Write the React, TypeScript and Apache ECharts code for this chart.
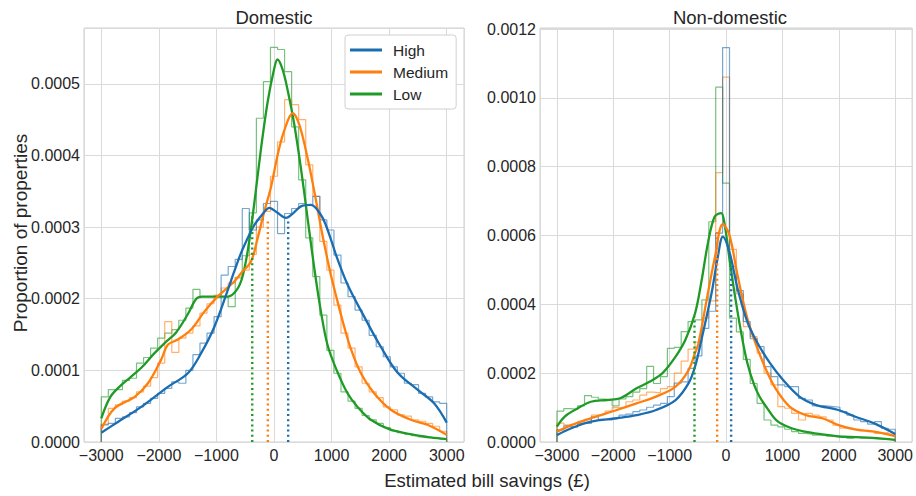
import React, { useEffect, useRef } from "react";
import * as echarts from "echarts";

// ---- data (densities in units of 1e-4) ----
const BIN_START = -3000;
const BIN_END = 3000;
const SCALE = 1e-4;
const groupNames = ["High", "Medium", "Low"];
const groupColors = ["#1b6db0", "#ff7f0e", "#1f9a26"];
const xTicks = [-3000, -2000, -1000, 0, 1000, 2000, 3000];

// Domestic histograms (49 bins from -3000 to 3000)
const domHighHist = [0.24, 0.26, 0.33, 0.35, 0.41, 0.49, 0.54, 0.61, 0.68, 0.75, 0.84, 0.82, 1.0, 1.22, 1.38, 1.52, 1.75,
  2.33, 2.45, 2.55, 3.26, 2.96, 3.1, 3.33, 3.36, 2.91, 3.19, 3.26, 3.33, 3.31, 3.43, 3.1, 2.96, 2.61,
  2.22, 2.03, 1.84, 1.7, 1.49, 1.33, 1.19, 1.05, 0.96, 0.82, 0.8, 0.68, 0.63, 0.56, 0.54];
const domMediumHist = [0.25, 0.47, 0.52, 0.57, 0.62, 0.7, 0.78, 0.9, 1.1, 1.68, 1.25, 1.45, 1.52, 1.62, 1.8, 1.93, 2.05,
  2.15, 2.22, 2.29, 2.4, 2.62, 3.0, 3.22, 3.71, 4.19, 4.78, 4.71, 4.5, 3.87, 3.43, 2.8, 2.4, 1.91,
  1.52, 1.31, 1.05, 0.82, 0.7, 0.62, 0.49, 0.45, 0.38, 0.36, 0.31, 0.29, 0.26, 0.22, 0.15];
const domLowHist = [0.63, 0.73, 0.73, 0.86, 0.89, 1.1, 1.18, 1.31, 1.45, 1.52, 1.57, 1.7, 1.87, 2.13, 2.03, 2.03, 2.03,
  2.03, 1.89, 2.3, 2.6, 3.2, 4.52, 5.03, 5.51, 5.48, 5.17, 4.4, 3.66, 2.85, 2.31, 1.77, 1.28, 0.96,
  0.7, 0.57, 0.47, 0.37, 0.31, 0.26, 0.2, 0.16, 0.13, 0.11, 0.09, 0.07, 0.06, 0.05, 0.04];

// Non-domestic histograms
const ndHighHist = [0.35, 0.47, 0.43, 0.54, 0.54, 0.73, 0.66, 0.64, 0.69, 0.78, 0.81, 0.88, 0.93, 1.01, 1.07, 1.12, 1.32, 1.71, 1.75, 2.14,
  2.5, 3.3, 3.8, 6.07, 11.46, 5.1, 4.4, 3.5, 3.0,
  2.77, 2.19, 1.9, 1.66, 1.61, 1.61, 1.27, 1.22, 1.05, 1.05, 1.03, 1.01, 0.88, 0.78, 0.64, 0.59, 0.52, 0.59, 0.4, 0.37];
const ndMediumHist = [0.55, 0.5, 0.45, 0.6, 0.66, 0.78, 0.8, 0.9, 1.0, 1.0, 1.17, 1.22, 1.36, 1.45, 1.43, 1.55, 1.61, 2.0, 2.35, 2.7,
  2.9, 3.6, 4.1, 7.83, 10.6, 5.6, 4.3, 3.35, 3.06,
  2.58, 2.0, 1.66, 1.03, 0.98, 0.83, 0.64, 0.83, 0.78, 0.73, 0.64, 0.49, 0.4, 0.4, 0.37, 0.33, 0.3, 0.25, 0.27, 0.23];
const ndLowHist = [0.9, 0.97, 0.95, 1.05, 1.35, 1.3, 1.25, 1.22, 1.05, 1.25, 1.32, 1.45, 1.55, 2.2, 1.7, 1.9, 2.72, 2.75, 3.21, 3.5,
  3.55, 4.13, 6.4, 10.31, 7.52, 3.6, 3.2, 2.4, 1.7,
  1.12, 0.64, 0.49, 0.44, 0.37, 0.3, 0.25, 0.23, 0.2, 0.2, 0.17, 0.16, 0.14, 0.11, 0.14, 0.11, 0.1, 0.08, 0.08, 0.06];

// KDE curves: x positions (£) and densities (1e-4)
const domHighKdeX = [-3000, -2711, -2306, -1843, -1496, -1266, -1035, -803, -700, -572, -450, -341, -200, -81, 60, 208, 340, 468, 642, 815, 900, 1000, 1100, 1277, 1566, 1855, 2145, 2492, 2780, 3000];
const domHighKdeY = [0.13, 0.28, 0.49, 0.77, 0.96, 1.24, 1.61, 2.12, 2.36, 2.64, 2.86, 3.03, 3.18, 3.27, 3.2, 3.13, 3.2, 3.29, 3.31, 3.17, 3.03, 2.8, 2.56, 2.2, 1.75, 1.33, 0.97, 0.73, 0.54, 0.27];
const domMediumKdeX = [-3000, -2770, -2420, -2190, -1960, -1840, -1670, -1440, -1210, -980, -690, -570, -400, -283, -168, -52, 64, 179, 324, 439, 584, 699, 844, 988, 1104, 1219, 1335, 1509, 1739, 2029, 2376, 2665, 3000];
const domMediumKdeY = [0.18, 0.47, 0.63, 0.82, 1.15, 1.36, 1.43, 1.57, 1.82, 2.03, 2.24, 2.36, 2.52, 2.85, 3.22, 3.56, 4.01, 4.35, 4.59, 4.43, 3.96, 3.5, 2.88, 2.33, 1.96, 1.61, 1.3, 0.96, 0.68, 0.45, 0.31, 0.24, 0.1];
const domLowKdeX = [-3000, -2850, -2700, -2500, -2300, -2100, -1900, -1700, -1500, -1350, -1250, -1000, -800, -650, -550, -450, -340, -225, -110, 0, 60, 150, 240, 353, 468, 584, 699, 815, 931, 1090, 1277, 1451, 1682, 2000, 2433, 2722, 3000];
const domLowKdeY = [0.33, 0.62, 0.76, 0.9, 1.04, 1.22, 1.38, 1.53, 1.78, 2.0, 2.03, 2.03, 2.03, 2.12, 2.3, 2.7, 3.35, 4.1, 4.75, 5.2, 5.34, 5.2, 4.9, 4.43, 3.82, 3.12, 2.43, 1.82, 1.35, 1.0, 0.68, 0.49, 0.31, 0.18, 0.1, 0.065, 0.04];

const ndHighKdeX = [-3000, -2745, -2398, -1936, -1588, -1242, -895, -664, -548, -433, -260, -144, -57, 59, 203, 376, 550, 780, 1012, 1301, 1590, 1994, 2283, 2630, 3000];
const ndHighKdeY = [0.2, 0.4, 0.59, 0.69, 0.78, 0.93, 1.22, 1.71, 2.2, 3.0, 4.3, 5.4, 5.97, 5.53, 4.47, 3.5, 2.9, 2.29, 1.8, 1.32, 1.08, 0.93, 0.74, 0.54, 0.23];
const ndMediumKdeX = [-3000, -2745, -2398, -1936, -1588, -1242, -895, -664, -548, -491, -317, -201, -57, 59, 203, 376, 550, 723, 896, 1127, 1417, 1706, 1994, 2283, 2630, 3000];
const ndMediumKdeY = [0.3, 0.49, 0.69, 0.93, 1.12, 1.32, 1.61, 2.09, 2.6, 2.85, 4.37, 5.34, 6.33, 6.02, 4.85, 3.6, 2.75, 2.05, 1.51, 1.03, 0.78, 0.69, 0.49, 0.37, 0.3, 0.17];
const ndLowKdeX = [-3000, -2861, -2629, -2398, -2109, -1878, -1588, -1358, -1127, -895, -721, -548, -433, -317, -201, -87, -28, 59, 146, 260, 376, 500, 600, 723, 900, 1128, 1400, 1706, 2000, 2300, 2600, 3000];
const ndLowKdeY = [0.45, 0.74, 0.98, 1.17, 1.22, 1.27, 1.56, 1.75, 2.0, 2.48, 2.97, 3.75, 4.7, 5.82, 6.55, 6.65, 6.35, 5.34, 4.37, 3.25, 2.3, 1.65, 1.3, 1.0, 0.62, 0.42, 0.3, 0.22, 0.16, 0.14, 0.12, 0.06];

// Medians (£) and the KDE height at each median (1e-4): High, Medium, Low
const domMedians = [246, -107, -378];
const domMedianHeights = [3.08, 3.12, 3.15];
const ndMedians = [90, -158, -560];
const ndMedianHeights = [5.1, 6.2, 3.65];

const FONT = "'Liberation Sans', Arial, Helvetica, sans-serif";
const TEXT = "#262626";

function histPoints(vals: number[]) {
  const w = (BIN_END - BIN_START) / vals.length;
  const pts: number[][] = [[BIN_START, 0]];
  vals.forEach((v, i) => {
    const a = BIN_START + i * w;
    pts.push([a, v * SCALE], [a + w, v * SCALE]);
  });
  pts.push([BIN_END, 0]);
  return pts;
}
function kdePoints(xs: number[], ys: number[]) {
  return xs.map((x, i) => [x, ys[i] * SCALE]);
}

export default function App() {
  const ref = useRef<HTMLDivElement>(null);
  useEffect(() => {
    document.body.style.margin = "0";
    const chart = echarts.init(ref.current!, undefined, { renderer: "svg" });
    const panels = [
      {
        hists: [domHighHist, domMediumHist, domLowHist],
        kdes: [[domHighKdeX, domHighKdeY], [domMediumKdeX, domMediumKdeY], [domLowKdeX, domLowKdeY]],
        medians: domMedians, heights: domMedianHeights,
      },
      {
        hists: [ndHighHist, ndMediumHist, ndLowHist],
        kdes: [[ndHighKdeX, ndHighKdeY], [ndMediumKdeX, ndMediumKdeY], [ndLowKdeX, ndLowKdeY]],
        medians: ndMedians, heights: ndMedianHeights,
      },
    ];
    const series: any[] = [];
    panels.forEach((p, pi) => {
      for (let g = 2; g >= 0; g--) {
        series.push({
          name: groupNames[g] + " hist " + pi, type: "line", xAxisIndex: pi, yAxisIndex: pi,
          data: histPoints(p.hists[g]), showSymbol: false, symbol: "none", z: 2,
          lineStyle: { color: groupColors[g], width: 1.2, opacity: 0.6 }, itemStyle: { color: groupColors[g] },
          silent: true,
        });
      }
      for (let g = 2; g >= 0; g--) {
        series.push({
          name: groupNames[g], type: "line", xAxisIndex: pi, yAxisIndex: pi,
          data: kdePoints(p.kdes[g][0], p.kdes[g][1]), showSymbol: false, symbol: "none",
          smooth: 0.35, z: 3,
          lineStyle: { color: groupColors[g], width: 2.3 }, itemStyle: { color: groupColors[g] },
        });
      }
      for (let g = 2; g >= 0; g--) {
        series.push({
          name: groupNames[g] + " median " + pi, type: "line", xAxisIndex: pi, yAxisIndex: pi,
          data: [[p.medians[g], 0], [p.medians[g], p.heights[g] * SCALE]], showSymbol: false, symbol: "none", z: 4,
          lineStyle: { color: groupColors[g], width: 2.4, type: [2, 3.2], cap: "butt" }, itemStyle: { color: groupColors[g] },
        });
      }
    });

    const xAxisCommon = (gi: number) => ({
      type: "value", gridIndex: gi, min: -3300, max: 3300, splitNumber: 6,
      axisLine: { show: false }, axisTick: { show: false },
      axisLabel: {
        fontSize: 16, color: TEXT, fontFamily: FONT, margin: 5,
        formatter: (v: number) => (xTicks.indexOf(Math.round(v)) < 0 || Math.abs(v - Math.round(v)) > 1e-6 ? "" : v < 0 ? "\u2212" + Math.abs(v) : String(v)),
      },
      splitLine: { show: true, lineStyle: { color: "#dadada", width: 1 } },
    });
    const yAxisCommon = (gi: number, max: number, interval: number) => ({
      type: "value", gridIndex: gi, min: 0, max, interval,
      axisLine: { show: false }, axisTick: { show: false },
      axisLabel: {
        fontSize: 16, color: TEXT, fontFamily: FONT, margin: 4,
        formatter: (v: number) => (Math.abs(v * 1e4 - Math.round(v * 1e4)) > 1e-6 ? "" : v.toFixed(4)),
      },
      splitLine: { show: true, lineStyle: { color: "#dadada", width: 1 } },
    });

    chart.setOption({
      animation: false,
      backgroundColor: "#ffffff",
      grid: [
        { left: 84, top: 28, width: 380, height: 414, show: true, borderColor: "#cfcfcf", borderWidth: 1, backgroundColor: "transparent" },
        { left: 540, top: 28, width: 380, height: 414, show: true, borderColor: "#cfcfcf", borderWidth: 1, backgroundColor: "transparent" },
      ],
      xAxis: [xAxisCommon(0), xAxisCommon(1)],
      yAxis: [yAxisCommon(0, 0.000578, 0.0001), yAxisCommon(1, 0.001203, 0.0002)],
      legend: {
        data: groupNames, orient: "vertical", left: 345, top: 35, selectedMode: false,
        icon: "rect", itemWidth: 32, itemHeight: 3, itemGap: 6,
        backgroundColor: "#ffffff", borderColor: "#d0d0d0", borderWidth: 1, borderRadius: 3,
        padding: [7, 8, 7, 5],
        textStyle: { fontSize: 15.5, color: TEXT, fontFamily: FONT, padding: [0, 0, 0, 6] },
      },
      graphic: [
        { type: "text", x: 274, y: 17, style: { text: "Domestic", fontSize: 18.5, fontFamily: FONT, fill: TEXT, align: "center", verticalAlign: "middle", textAlign: "center", textVerticalAlign: "middle" } },
        { type: "text", x: 730, y: 17, style: { text: "Non-domestic", fontSize: 18.5, fontFamily: FONT, fill: TEXT, align: "center", verticalAlign: "middle", textAlign: "center", textVerticalAlign: "middle" } },
        { type: "text", x: 487, y: 480, style: { text: "Estimated bill savings (\u00a3)", fontSize: 18.5, fontFamily: FONT, fill: TEXT, align: "center", verticalAlign: "middle", textAlign: "center", textVerticalAlign: "middle" } },
        { type: "text", x: 20, y: 233, rotation: Math.PI / 2, style: { text: "Proportion of properties", fontSize: 19, fontFamily: FONT, fill: TEXT, align: "center", verticalAlign: "middle", textAlign: "center", textVerticalAlign: "middle" } },
      ],
      series,
    });
    return () => chart.dispose();
  }, []);
  return <div ref={ref} style={{ width: 916, height: 496 }} />;
}
